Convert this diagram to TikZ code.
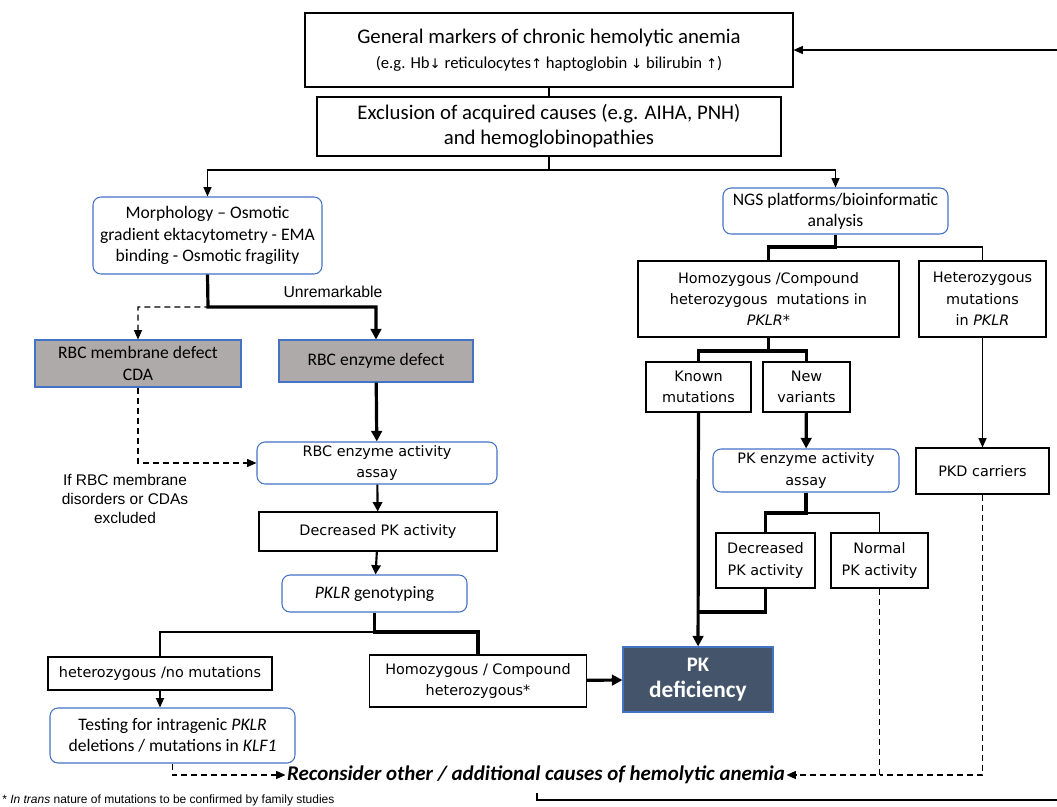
\documentclass[tikz,border=0pt]{standalone}
\usepackage{fontspec}
\setmainfont{Carlito}
\newfontfamily\verdfont{DejaVu Sans}
\newfontfamily\arialfont{Liberation Sans}
\usetikzlibrary{arrows.meta,positioning,calc}
\definecolor{boxblue}{RGB}{68,114,196}
\definecolor{boxgrey}{RGB}{174,170,170}
\definecolor{pkslate}{RGB}{68,84,106}
\newcommand{\uparr}{{\verdfont\fontsize{10}{10}\selectfont ↑}}
\newcommand{\dnarr}{{\verdfont\fontsize{10}{10}\selectfont ↓}}

\begin{document}
\begin{tikzpicture}[
  x=0.75pt, y=-0.75pt,
  sz/.style 2 args={minimum width=#1*0.75pt, minimum height=#2*0.75pt},
  plainbox/.style={draw, line width=0.8pt, align=center, inner sep=1pt, font=\verdfont\fontsize{10.8}{16}\selectfont},
  calbox/.style={draw, line width=0.8pt, align=center, inner sep=1pt, font=\fontsize{15.6}{19}\selectfont},
  bluebox/.style={draw=boxblue, line width=0.8pt, rounded corners=6pt, align=center, inner sep=1pt, font=\fontsize{13.2}{16}\selectfont},
  blueverd/.style={bluebox, font=\verdfont\fontsize{10.8}{16}\selectfont},
  greybox/.style={draw=boxblue, fill=boxgrey, line width=0.8pt, align=center, inner sep=1pt, font=\fontsize{13.2}{16}\selectfont},
  darkbox/.style={draw=boxblue, fill=pkslate, text=white, line width=0.8pt, align=center, font=\bfseries\fontsize{17.5}{20}\selectfont},
  txt/.style={align=center, inner sep=1pt, font=\arialfont\fontsize{11.6}{14.2}\selectfont},
  thinline/.style={line width=0.9pt},
  thickline/.style={line width=2.4pt},
  thinarrow/.style={thinline, -{Triangle[length=7pt,width=6pt]}},
  thickarrow/.style={thickline, -{Triangle[length=8pt,width=8pt]}},
  dashline/.style={line width=0.9pt, dash pattern=on 4.5pt off 3pt},
  dasharrow/.style={dashline, -{Triangle[length=7pt,width=6pt]}}
]
\useasboundingbox (0,0) rectangle (1057,807);

% top boxes
\node[calbox, sz={488}{74}] (gen) at (549,50) {General markers of chronic hemolytic anemia\\
  {\fontsize{12.5}{15}\selectfont (e.g. Hb\dnarr{} reticulocytes\uparr{} haptoglobin \dnarr{} bilirubin \uparr)}};
\node[calbox, sz={464}{59}] (excl) at (549,126.5) {Exclusion of acquired causes (e.g. AIHA, PNH)\\and hemoglobinopathies};

% left branch
\node[bluebox, sz={229}{77}] (morph) at (207.5,235.5) {Morphology -- Osmotic\\gradient ektacytometry - EMA\\binding - Osmotic fragility};
\node[greybox, sz={206}{47}] (rbcm) at (138,363.5) {RBC membrane defect\\CDA};
\node[greybox, sz={194}{42}] (rbce) at (376,361) {RBC enzyme defect};
\node[blueverd, sz={240}{42}] (rassay) at (377,463) {RBC enzyme activity\\assay};
\node[plainbox, sz={238}{39}] (dec) at (378,531.5) {Decreased PK activity};
\node[bluebox, sz={185}{37}] (geno) at (374.5,593.5) {\textit{PKLR} genotyping};
\node[plainbox, sz={224}{33}] (het) at (160,673.5) {heterozygous /no mutations};
\node[plainbox, sz={217}{52}] (homo2) at (478,681) {Homozygous / Compound\\heterozygous*};
\node[bluebox, sz={245}{55}] (test) at (172.5,735.5) {Testing for intragenic \textit{PKLR}\\deletions / mutations in \textit{KLF1}};
\node[darkbox, sz={150}{65}] (pkdef) at (698,679.5) {{\fontsize{15.5}{18}\selectfont PK}\\deficiency};

% right branch
\node[bluebox, sz={225}{46}] (ngs) at (835.5,211) {NGS platforms/bioinformatic\\analysis};
\node[plainbox, sz={261}{76}] (homo) at (768.5,299) {Homozygous /Compound\\heterozygous \ mutations in\\\textit{PKLR}*};
\node[plainbox, sz={127}{76}] (hetr) at (982.5,299) {Heterozygous\\mutations\\in \textit{PKLR}};
\node[plainbox, sz={105}{50}] (known) at (698.5,387) {Known\\mutations};
\node[plainbox, sz={87}{50}] (newv) at (806.5,387) {New\\variants};
\node[blueverd, sz={186}{43}] (pkassay) at (806,470.5) {PK enzyme activity\\assay};
\node[plainbox, sz={133}{46}] (pkd) at (982.5,471) {PKD carriers};
\node[plainbox, sz={99}{55}] (decr) at (765.5,560.5) {Decreased\\PK activity};
\node[plainbox, sz={97}{55}] (norm) at (879.5,560.5) {Normal\\PK activity};

% free texts
\node[txt, font=\arialfont\fontsize{11.8}{14}\selectfont] (unrem) at (333,292) {Unremarkable};
\node[txt] (ifrbc) at (125,499) {If RBC membrane\\disorders or CDAs\\excluded};
\node[font=\bfseries\itshape\fontsize{15.7}{18}\selectfont, inner sep=1pt] (recons) at (536,775) {Reconsider other / additional causes of hemolytic anemia};
\node[anchor=west, inner sep=0pt, font=\arialfont\fontsize{9}{10}\selectfont] (note) at (2,800) {* \textit{In trans} nature of mutations to be confirmed by family studies};

% junctions
\coordinate (split) at (549,170);
\coordinate (mj) at (208,307);
\coordinate (gj) at (374.5,632);
\coordinate (nj) at (835.5,247);
\coordinate (hj) at (768.5,351);
\coordinate (pj) at (806,513);
\coordinate (dm) at (698.5,612);
\coordinate (loopa) at (537,793);
\coordinate (loopb) at (1057,800);
\coordinate (loopc) at (1057,50);

% connectors
\draw[thinline] (gen) -- (excl);
\draw[thinline] (excl.south) -- (split);
\draw[thinarrow] (split) -| (morph.north);
\draw[thinarrow] (split) -| (ngs.north);
\draw[thinarrow] (loopc) -- (gen.east);
\draw[thinline] (loopa) |- (loopb);

\draw[dasharrow] (morph.south) -- (mj) -| (rbcm.north);
\draw[thickarrow] (morph.south) -- (mj) -| (rbce.north);
\draw[thickarrow] (rbce) -- (rassay);
\draw[dasharrow] (rbcm.south) |- (rassay.west);
\draw[line width=1.6pt, -{Triangle[length=7pt,width=7pt]}] (rassay) -- (dec);
\draw[line width=1.6pt, -{Triangle[length=7pt,width=7pt]}] (dec) -- (geno);
\draw[thinline] (gj) -| (het.north);
\draw[thickline] (geno.south) -- (gj) -| (homo2.north);
\draw[thinarrow] (het.south) -- (het.south |- test.north);
\draw[dasharrow] (test.south) |- (recons.west);
\draw[thickarrow] (homo2) -- (pkdef);

\draw[thinline] (nj) -| (hetr.north);
\draw[thickline] (ngs.south) -- (nj) -| (homo.north);
\draw[thickline] (homo.south) -- (hj) -| (known.north);
\draw[thickline] (hj) -| (newv.north);
\draw[thinarrow] (hetr) -- (pkd);
\draw[thickarrow] (newv) -- (pkassay);
\draw[thinline] (pj) -| (norm.north);
\draw[thickline] (pkassay.south) -- (pj) -| (decr.north);
\draw[thickarrow] (known) -- (pkdef);
\draw[thickline] (decr.south) |- (dm);
\draw[dasharrow] (norm.south) |- (recons.east);
\draw[dashline] (pkd.south) |- (norm.south |- recons.east);
\end{tikzpicture}
\end{document}
